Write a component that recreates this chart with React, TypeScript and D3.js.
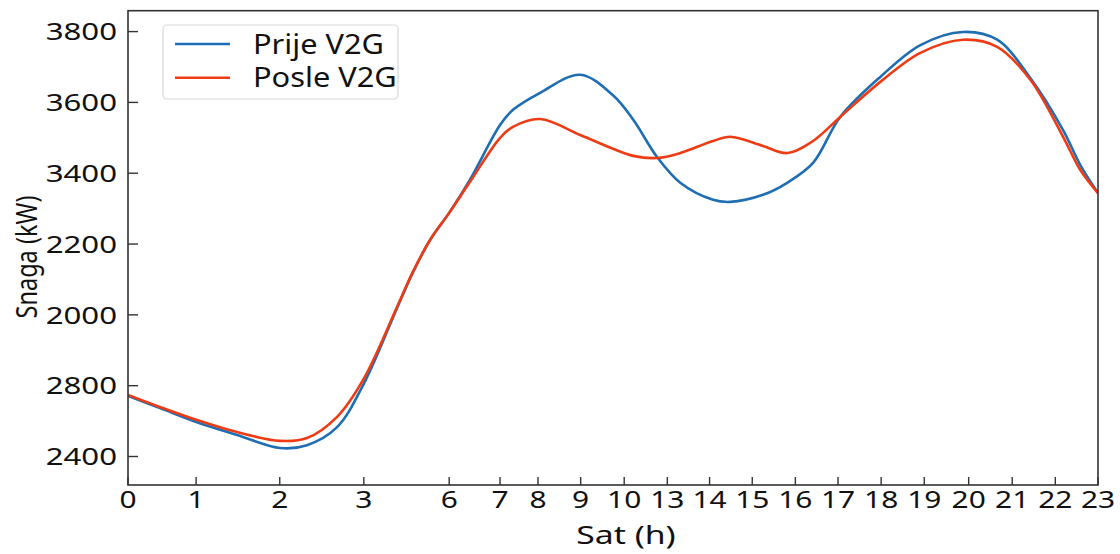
import React from "react";
import * as d3 from "d3";

// hour tick labels and their positions along the (non-uniform) x axis
const hourLabels = ["0", "1", "2", "3", "6", "7", "8", "9", "10", "13", "14", "15", "16", "17", "18", "19", "20", "21", "22", "23"];
const hourPos = [0, 1.58, 3.52, 5.47, 7.45, 8.63, 9.51, 10.5, 11.51, 12.51, 13.49, 14.48, 15.48, 16.47, 17.47, 18.47, 19.5, 20.51, 21.51, 22.5];

// y ticks (values on the linear scale) and the labels printed at them
const yTickValues = [2600, 2800, 3000, 3200, 3400, 3600, 3800];
const yTickLabels = ["2400", "2800", "2000", "2200", "3400", "3600", "3800"];

// sample positions along x
const samplePos = [0, 0.74, 1.6, 2.53, 3.53, 4.15, 4.85, 5.48, 6.24, 6.61, 7.01, 7.45, 7.93, 8.63, 8.93, 9.56, 10.49, 11.25, 11.72, 12.27, 12.81, 13.57, 13.97, 14.73, 15.29, 15.89, 16.52, 17.45, 18.38, 19.37, 20.16, 20.93, 21.69, 22.09, 22.5];

const prijeV2G = [2771, 2737, 2697, 2661, 2624, 2632, 2683, 2808, 3019, 3120, 3212, 3288, 3381, 3536, 3579, 3627, 3678, 3620, 3551, 3446, 3373, 3325, 3319, 3339, 3373, 3429, 3559, 3672, 3762, 3799, 3777, 3669, 3522, 3423, 3344];
const posleV2G = [2774, 2740, 2703, 2669, 2644, 2652, 2712, 2822, 3022, 3122, 3212, 3288, 3375, 3500, 3531, 3553, 3508, 3469, 3449, 3443, 3457, 3491, 3503, 3477, 3457, 3491, 3559, 3658, 3740, 3777, 3757, 3664, 3503, 3409, 3344];

const seriesNames = ["Prije V2G", "Posle V2G"];
const seriesColors = ["#1f6db2", "#ee3b14"];

const W = 1120;
const H = 554;
const L = 128;
const R = 1098;
const T = 10.7;
const B = 485;

export default function App() {
  const x = d3.scaleLinear().domain([0, 22.5]).range([L, R]);
  const y = d3.scaleLinear().domain([2519.5, 3859]).range([B, T]);

  const line = d3
    .line<[number, number]>()
    .x((d) => x(d[0]))
    .y((d) => y(d[1]))
    .curve(d3.curveCatmullRom.alpha(0.5));

  const series = [prijeV2G, posleV2G].map((vals) =>
    vals.map((v, i) => [samplePos[i], v] as [number, number])
  );

  const font = "'Noto Sans', 'Open Sans', sans-serif";

  return (
    <svg
      width={W}
      height={H}
      style={{ position: "absolute", left: 0, top: 0, background: "#fff" }}
    >
      <defs>
        <clipPath id="plotclip">
          <rect x={L} y={T} width={R - L} height={B - T} />
        </clipPath>
      </defs>

      {/* series */}
      <g clipPath="url(#plotclip)">
        {series.map((s, i) => (
          <path
            key={i}
            d={line(s) || ""}
            fill="none"
            stroke={seriesColors[i]}
            strokeWidth={2.6}
            strokeLinejoin="round"
          />
        ))}
      </g>

      {/* frame */}
      <rect x={L} y={T} width={R - L} height={B - T} fill="none" stroke="#333" strokeWidth={1.6} />

      {/* y ticks */}
      {yTickValues.map((v, i) => (
        <g key={"y" + i}>
          <line x1={L} x2={L + 10} y1={y(v)} y2={y(v)} stroke="#333" strokeWidth={1.4} />
          <text
            transform={`translate(${L - 11},${y(v)}) scale(1.3,1)`}
            dy="0.36em"
            textAnchor="end"
            fontFamily={font}
            fontSize={24}
            fill="#111"
          >
            {yTickLabels[i]}
          </text>
        </g>
      ))}

      {/* x ticks */}
      {hourPos.map((p, i) => (
        <g key={"x" + i}>
          <line x1={x(p)} x2={x(p)} y1={B} y2={B - 8} stroke="#333" strokeWidth={1.4} />
          <text
            transform={`translate(${x(p)},${508}) scale(1.3,1)`}
            textAnchor="middle"
            fontFamily={font}
            fontSize={23}
            fill="#111"
          >
            {hourLabels[i]}
          </text>
        </g>
      ))}

      {/* axis titles */}
      <text
        transform={`translate(626,544) scale(1.35,1)`}
        textAnchor="middle"
        fontFamily={font}
        fontSize={25}
        fill="#111"
      >
        Sat (h)
      </text>
      <text
        transform={`translate(37,257) rotate(-90)`}
        textAnchor="middle"
        fontFamily={font}
        fontSize={29}
        textLength={123}
        lengthAdjust="spacingAndGlyphs"
        fill="#111"
      >
        Snaga (kW)
      </text>

      {/* legend */}
      <rect x={163} y={25} width={235} height={74} rx={4} fill="#fff" fillOpacity={0.85} stroke="#d8d8d8" strokeWidth={1.2} />
      {seriesNames.map((n, i) => (
        <g key={"lg" + i}>
          <line
            x1={175}
            x2={230}
            y1={44 + i * 33.7}
            y2={44 + i * 33.7}
            stroke={seriesColors[i]}
            strokeWidth={2.6}
          />
          <text
            transform={`translate(253,${53.5 + i * 33.7}) scale(1.14,1)`}
            fontFamily={font}
            fontSize={27}
            fill="#111"
          >
            {n}
          </text>
        </g>
      ))}
    </svg>
  );
}
